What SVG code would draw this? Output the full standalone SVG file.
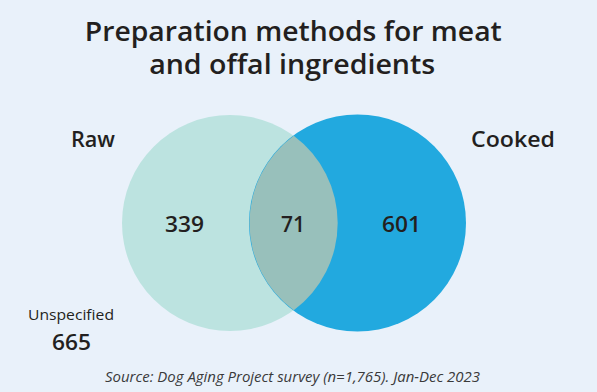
<svg xmlns="http://www.w3.org/2000/svg" width="597" height="392" viewBox="0 0 597 392">
<style>
text{font-family:"Open Sans",Lato,"Liberation Sans",sans-serif;fill:#231f20}
.title{font-size:27.5px;font-weight:600;text-anchor:middle}
.lbl{font-size:21px;font-weight:600}
.num{font-size:22px;font-weight:600;text-anchor:middle}
.small{font-size:15px;font-weight:400;text-anchor:middle}
.src{font-size:14px;font-style:italic;fill:#3a3a3a;text-anchor:middle}
</style>
<rect width="597" height="392" fill="#e9f1fa"/>
<g id="title">
<text class="title"><tspan x="293.3" y="40.7" textLength="417" lengthAdjust="spacingAndGlyphs">Preparation methods for meat</tspan><tspan x="292.2" y="73.5" textLength="286" lengthAdjust="spacingAndGlyphs">and offal ingredients</tspan></text>
</g>
<g id="raw">
<circle cx="230" cy="223" r="108" fill="#bce3e0"/>
<text class="lbl" x="71" y="147" textLength="44" lengthAdjust="spacingAndGlyphs">Raw</text>
</g>
<g id="cooked">
<circle cx="357.5" cy="223" r="108.5" fill="#22a9df"/>
<text class="lbl" x="471" y="147" textLength="84" lengthAdjust="spacingAndGlyphs">Cooked</text>
</g>
<g id="overlap">
<path d="M293.75,135.8 A108.5,108.5 0 0 1 293.75,310.2 A108,108 0 0 1 293.75,135.8 Z" fill="#98c0bb"/>
</g>
<g id="counts">
<text class="num" x="184.5" y="232" textLength="39" lengthAdjust="spacingAndGlyphs">339</text>
<text class="num" x="293" y="232" textLength="24" lengthAdjust="spacingAndGlyphs">71</text>
<text class="num" x="401.5" y="232" textLength="39" lengthAdjust="spacingAndGlyphs">601</text>
</g>
<g id="unspecified">
<text class="small" x="71" y="320" textLength="86" lengthAdjust="spacingAndGlyphs">Unspecified</text>
<text class="num" x="71.5" y="350" textLength="39" lengthAdjust="spacingAndGlyphs">665</text>
</g>
<g id="source">
<text class="src" x="292.5" y="382" textLength="375" lengthAdjust="spacingAndGlyphs">Source: Dog Aging Project survey (n=1,765). Jan-Dec 2023</text>
</g>
</svg>
